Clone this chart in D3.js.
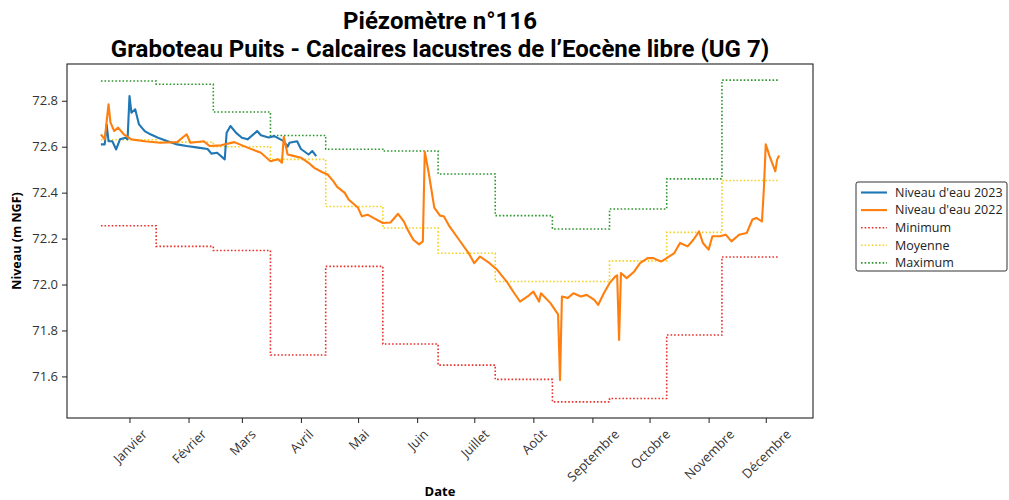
<!DOCTYPE html>
<html>
<head>
<meta charset="utf-8">
<script src="https://cdn.jsdelivr.net/npm/d3@7"></script>
<style>
  body { margin: 0; background: #fff; }
</style>
</head>
<body>
<div id="chart"></div>
<script>
// Month ticks (labels + tick dates)
const monthLabels = ["Janvier", "Février", "Mars", "Avril", "Mai", "Juin", "Juillet", "Août",
  "Septembre", "Octobre", "Novembre", "Décembre"];
const monthTicks = ["2022-01-01", "2022-02-01", "2022-03-01", "2022-04-01", "2022-05-01", "2022-06-01",
  "2022-07-01", "2022-08-01", "2022-09-01", "2022-10-01", "2022-11-01", "2022-12-01"];
const yTicks = [71.6, 71.8, 72.0, 72.2, 72.4, 72.6, 72.8];

// Niveau d'eau 2023 (plotted on the same calendar axis)
const dates2023 = ["2021-12-17", "2021-12-19", "2021-12-20", "2021-12-21", "2021-12-23", "2021-12-25",
  "2021-12-27", "2021-12-30", "2021-12-31", "2022-01-01", "2022-01-02", "2022-01-04", "2022-01-06",
  "2022-01-09", "2022-01-12", "2022-01-16", "2022-01-21", "2022-01-26", "2022-01-31", "2022-02-06",
  "2022-02-11", "2022-02-13", "2022-02-16", "2022-02-20", "2022-02-21", "2022-02-23", "2022-02-26",
  "2022-03-01", "2022-03-04", "2022-03-09", "2022-03-11", "2022-03-15", "2022-03-18", "2022-03-23",
  "2022-03-25", "2022-03-26", "2022-03-30", "2022-04-01", "2022-04-05", "2022-04-07", "2022-04-09"];
const level2023 = [72.610, 72.610, 72.697, 72.624, 72.624, 72.588,
  72.632, 72.639, 72.632, 72.821, 72.748, 72.763, 72.697,
  72.668, 72.654, 72.639, 72.624, 72.610, 72.603, 72.596,
  72.590, 72.570, 72.574, 72.545, 72.661, 72.690, 72.660,
  72.639, 72.632, 72.668, 72.650, 72.640, 72.646, 72.624,
  72.600, 72.617, 72.624, 72.590, 72.566, 72.581, 72.559];

// Niveau d'eau 2022
const dates2022 = ["2021-12-17", "2021-12-19", "2021-12-21", "2021-12-22", "2021-12-24", "2021-12-26",
  "2021-12-29", "2022-01-02", "2022-01-09", "2022-01-17", "2022-01-26", "2022-01-31", "2022-02-02",
  "2022-02-09", "2022-02-12", "2022-02-18", "2022-02-25", "2022-03-04", "2022-03-11", "2022-03-16",
  "2022-03-20", "2022-03-22", "2022-03-23", "2022-03-25", "2022-03-28", "2022-04-01", "2022-04-05",
  "2022-04-08", "2022-04-12", "2022-04-15", "2022-04-18", "2022-04-20", "2022-04-24", "2022-04-26",
  "2022-05-01", "2022-05-03", "2022-05-06", "2022-05-09", "2022-05-14", "2022-05-18", "2022-05-22",
  "2022-05-25", "2022-05-27", "2022-05-30", "2022-06-02", "2022-06-04", "2022-06-05", "2022-06-07",
  "2022-06-10", "2022-06-13", "2022-06-15", "2022-06-18", "2022-06-23", "2022-06-28", "2022-07-01",
  "2022-07-04", "2022-07-09", "2022-07-13", "2022-07-18", "2022-07-22", "2022-07-25", "2022-07-29",
  "2022-08-01", "2022-08-04", "2022-08-05", "2022-08-10", "2022-08-13", "2022-08-14", "2022-08-15",
  "2022-08-16", "2022-08-19", "2022-08-22", "2022-08-26", "2022-08-29", "2022-09-02", "2022-09-04",
  "2022-09-07", "2022-09-10", "2022-09-13", "2022-09-14", "2022-09-15", "2022-09-16", "2022-09-19",
  "2022-09-23", "2022-09-26", "2022-09-30", "2022-10-03", "2022-10-07", "2022-10-10", "2022-10-14",
  "2022-10-17", "2022-10-21", "2022-10-24", "2022-10-27", "2022-10-29", "2022-11-01", "2022-11-03",
  "2022-11-07", "2022-11-10", "2022-11-13", "2022-11-17", "2022-11-21", "2022-11-24", "2022-11-26",
  "2022-11-29", "2022-11-30", "2022-12-01", "2022-12-03", "2022-12-05", "2022-12-06", "2022-12-07",
  "2022-12-08"];
const level2022 = [72.654, 72.632, 72.785, 72.706, 72.668, 72.683,
  72.654, 72.632, 72.624, 72.617, 72.620, 72.654, 72.617,
  72.624, 72.603, 72.606, 72.620, 72.596, 72.574, 72.537,
  72.545, 72.530, 72.643, 72.566, 72.560, 72.552, 72.530,
  72.508, 72.490, 72.479, 72.450, 72.425, 72.399, 72.370,
  72.334, 72.297, 72.304, 72.290, 72.268, 72.270, 72.308,
  72.275, 72.239, 72.195, 72.175, 72.188, 72.578, 72.490,
  72.335, 72.300, 72.297, 72.253, 72.195, 72.137, 72.093,
  72.122, 72.093, 72.064, 72.013, 71.962, 71.926, 71.948,
  71.969, 71.926, 71.962, 71.919, 71.882, 71.870, 71.584,
  71.948, 71.941, 71.962, 71.948, 71.955, 71.933, 71.911,
  71.962, 72.006, 72.035, 72.040, 71.759, 72.050, 72.028,
  72.057, 72.093, 72.115, 72.115, 72.100, 72.115, 72.137,
  72.181, 72.166, 72.195, 72.231, 72.181, 72.152, 72.210,
  72.210, 72.217, 72.188, 72.217, 72.224, 72.283, 72.290,
  72.275, 72.414, 72.610, 72.559, 72.515, 72.493, 72.545,
  72.562];

// Monthly statistics: segment boundaries and one value per segment
const statBounds = ["2021-12-17", "2022-01-15", "2022-02-14", "2022-03-16", "2022-04-14", "2022-05-14",
  "2022-06-12", "2022-07-12", "2022-08-11", "2022-09-10", "2022-10-10", "2022-11-08", "2022-12-08"];
const minimum = [72.256, 72.166, 72.148, 71.693, 72.079, 71.741, 71.649, 71.587, 71.489, 71.504, 71.780, 72.120];
const moyenne = [72.630, 72.620, 72.600, 72.545, 72.340, 72.246, 72.136, 72.013, 72.013, 72.103, 72.227, 72.453];
const maximum = [72.886, 72.872, 72.751, 72.649, 72.589, 72.581, 72.481, 72.300, 72.242, 72.329, 72.460, 72.890];

const parse = d3.timeParse("%Y-%m-%d");
const FONT = "'Open Sans', 'DejaVu Sans', sans-serif";

const W = 1009, H = 500;
const margin = { top: 64, right: 196, bottom: 82, left: 67 };
const width = W - margin.left - margin.right;
const height = H - margin.top - margin.bottom;

const svg = d3.select("#chart").append("svg")
  .attr("width", W).attr("height", H)
  .style("font-family", FONT);

const g = svg.append("g").attr("transform", `translate(${margin.left},${margin.top})`);

// Build series
const zip = (ds, vs) => ds.map((d, i) => ({ date: parse(d), value: vs[i] }));
const serie2023 = zip(dates2023, level2023);
const serie2022 = zip(dates2022, level2022);
const stepSerie = (vs) => statBounds.map((d, i) => ({ date: parse(d), value: vs[Math.min(i, vs.length - 1)] }));
const stats = [
  { name: "Minimum", color: "#e8312b", data: stepSerie(minimum) },
  { name: "Moyenne", color: "#f3d221", data: stepSerie(moyenne) },
  { name: "Maximum", color: "#2e962e", data: stepSerie(maximum) }
];

// Scales with 5% padding like matplotlib
const allDates = [...serie2022, ...serie2023, ...stats[0].data].map(d => d.date);
const [x0, x1] = d3.extent(allDates);
const xpad = (x1 - x0) * 0.05;
const x = d3.scaleTime()
  .domain([new Date(+x0 - xpad), new Date(+x1 + xpad)])
  .range([0, width]);

const allVals = [...level2022, ...level2023, ...minimum, ...moyenne, ...maximum];
const [y0, y1] = d3.extent(allVals);
const ypad = (y1 - y0) * 0.05;
const y = d3.scaleLinear().domain([y0 - ypad, y1 + ypad]).range([height, 0]);

// Statistic step lines
const stepLine = d3.line().curve(d3.curveStepAfter).x(d => x(d.date)).y(d => y(d.value));
stats.forEach(s => {
  g.append("path")
    .datum(s.data)
    .attr("fill", "none")
    .attr("stroke", s.color)
    .attr("stroke-width", 1.6)
    .attr("stroke-dasharray", "1.6,2")
    .attr("d", stepLine);
});

// Water level lines
const line = d3.line().x(d => x(d.date)).y(d => y(d.value));
g.append("path").datum(serie2023)
  .attr("fill", "none").attr("stroke", "#1f77b4").attr("stroke-width", 2.1)
  .attr("stroke-linejoin", "round").attr("d", line);
g.append("path").datum(serie2022)
  .attr("fill", "none").attr("stroke", "#ff7f0e").attr("stroke-width", 2.1)
  .attr("stroke-linejoin", "round").attr("d", line);

// Frame
g.append("rect")
  .attr("width", width).attr("height", height)
  .attr("fill", "none").attr("stroke", "#222").attr("stroke-width", 1.1);

// Y axis
const yAxis = g.append("g")
  .call(d3.axisLeft(y).tickValues(yTicks).tickSize(5).tickPadding(4).tickFormat(d3.format(".1f")))
  .attr("font-family", FONT);
yAxis.select(".domain").remove();
yAxis.selectAll("line").attr("stroke", "#222");
yAxis.selectAll("text").attr("fill", "#333").style("font-size", "13px");

// X axis with 45° labels, centred under each tick
const xAxis = g.append("g")
  .attr("transform", `translate(0,${height})`)
  .call(d3.axisBottom(x).tickValues(monthTicks.map(parse)).tickSize(5).tickFormat((d, i) => monthLabels[i]))
  .attr("font-family", FONT);
xAxis.select(".domain").remove();
xAxis.selectAll("line").attr("stroke", "#222");
xAxis.selectAll("text")
  .attr("fill", "#333")
  .style("font-size", "13px")
  .attr("y", null).attr("dy", null)
  .attr("text-anchor", "middle")
  .attr("dominant-baseline", "central")
  .each(function () {
    const len = this.getComputedTextLength();
    const half = (len + 10) * Math.SQRT1_2 / 2;
    d3.select(this).attr("transform", `translate(0,${10 + half}) rotate(-45)`);
  });

// Axis titles
svg.append("text")
  .attr("x", margin.left + width / 2).attr("y", 496)
  .attr("text-anchor", "middle")
  .style("font-size", "13px").style("font-weight", "bold")
  .text("Date");
svg.append("text")
  .attr("transform", `translate(21,${margin.top + height / 2}) rotate(-90)`)
  .attr("text-anchor", "middle")
  .style("font-size", "12.5px").style("font-weight", "bold")
  .text("Niveau (m NGF)");

// Title
const title = svg.append("text")
  .attr("text-anchor", "middle")
  .style("font-family", "Roboto, sans-serif")
  .style("font-weight", "bold")
  .style("font-size", "24px");
title.append("tspan").attr("x", margin.left + width / 2).attr("y", 29).text("Piézomètre n°116");
title.append("tspan").attr("x", margin.left + width / 2).attr("y", 57)
  .text("Graboteau Puits - Calcaires lacustres de l’Eocène libre (UG 7)");

// Legend
const legendItems = [
  { name: "Niveau d'eau 2023", color: "#1f77b4", dotted: false },
  { name: "Niveau d'eau 2022", color: "#ff7f0e", dotted: false },
  ...stats.map(s => ({ name: s.name, color: s.color, dotted: true }))
];
const legend = svg.append("g").attr("transform", "translate(856,182)");
legend.append("rect")
  .attr("width", 151).attr("height", 89).attr("rx", 2)
  .attr("fill", "#fff").attr("stroke", "#333").attr("stroke-width", 1);
legendItems.forEach((it, i) => {
  const yy = 10.5 + i * 17.6;
  legend.append("line")
    .attr("x1", 5).attr("x2", 31).attr("y1", yy).attr("y2", yy)
    .attr("stroke", it.color)
    .attr("stroke-width", it.dotted ? 1.6 : 2.1)
    .attr("stroke-dasharray", it.dotted ? "1.6,2" : null);
  legend.append("text")
    .attr("x", 39).attr("y", yy).attr("dy", "0.35em")
    .style("font-size", "12.5px").attr("fill", "#222")
    .text(it.name);
});
</script>
</body>
</html>
